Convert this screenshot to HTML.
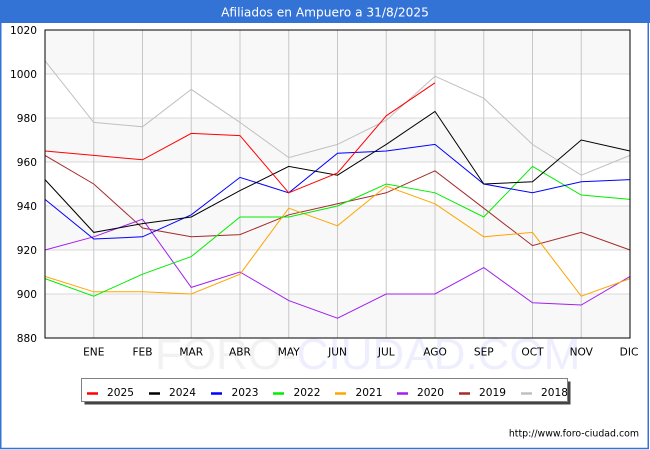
<!DOCTYPE html>
<html><head><meta charset="utf-8"><style>
html,body{margin:0;padding:0;background:#fff;}
body{width:650px;height:450px;overflow:hidden;}
svg{display:block;font-family:"DejaVu Sans","Liberation Sans",sans-serif;}
</style></head><body>
<svg width="650" height="450" viewBox="0 0 650 450" xmlns="http://www.w3.org/2000/svg">
<rect x="0" y="0" width="650" height="450" fill="#fff"/>
<!-- frame -->
<rect x="0.75" y="0" width="647.5" height="448.5" fill="none" stroke="#3473d6" stroke-width="1.5"/>
<rect x="0" y="0" width="650" height="23" fill="#3473d6"/>
<text x="325" y="16.5" fill="#fff" font-size="12.2" text-anchor="middle">Afiliados en Ampuero a 31/8/2025</text>

<!-- bands -->
<rect x="45" y="30" width="585" height="44" fill="#f8f8f8"/>
<rect x="45" y="118" width="585" height="44" fill="#f8f8f8"/>
<rect x="45" y="206" width="585" height="44" fill="#f8f8f8"/>
<rect x="45" y="294" width="585" height="44" fill="#f8f8f8"/>

<!-- horizontal grid -->
<g stroke="#d8d8d8" stroke-width="1">
<line x1="45" y1="74" x2="630" y2="74"/>
<line x1="45" y1="118" x2="630" y2="118"/>
<line x1="45" y1="162" x2="630" y2="162"/>
<line x1="45" y1="206" x2="630" y2="206"/>
<line x1="45" y1="250" x2="630" y2="250"/>
<line x1="45" y1="294" x2="630" y2="294"/>
</g>
<!-- vertical grid -->
<g stroke="#c8c8c8" stroke-width="1">
<line x1="93.75" y1="30" x2="93.75" y2="338"/>
<line x1="142.5" y1="30" x2="142.5" y2="338"/>
<line x1="191.25" y1="30" x2="191.25" y2="338"/>
<line x1="240" y1="30" x2="240" y2="338"/>
<line x1="288.75" y1="30" x2="288.75" y2="338"/>
<line x1="337.5" y1="30" x2="337.5" y2="338"/>
<line x1="386.25" y1="30" x2="386.25" y2="338"/>
<line x1="435" y1="30" x2="435" y2="338"/>
<line x1="483.75" y1="30" x2="483.75" y2="338"/>
<line x1="532.5" y1="30" x2="532.5" y2="338"/>
<line x1="581.25" y1="30" x2="581.25" y2="338"/>
</g>

<!-- watermark -->
<text x="155" y="369" font-size="44" fill="#f2f2f2" font-family="Liberation Sans, sans-serif">FORO-<tspan fill="#eeeeff">CIUDAD.COM</tspan></text>

<!-- series -->
<g fill="none" stroke-width="1" stroke-linejoin="miter">
<polyline stroke="#c0c0c0" points="45,60.8 93.75,122.4 142.5,126.8 191.25,89.4 240,122.4 288.75,157.6 337.5,144.4 386.25,120.2 435,76.2 483.75,98.2 532.5,144.4 581.25,175.2 630,155.4"/>
<polyline stroke="#a52a2a" points="45,155.4 93.75,184 142.5,228 191.25,236.8 240,234.6 288.75,214.8 337.5,203.8 386.25,192.8 435,170.8 483.75,208.2 532.5,245.6 581.25,232.4 630,250"/>
<polyline stroke="#a020f0" points="45,250 93.75,236.8 142.5,219.2 191.25,287.4 240,272 288.75,300.6 337.5,318.2 386.25,294 435,294 483.75,267.6 532.5,302.8 581.25,305 630,276.4"/>
<polyline stroke="#ffa500" points="45,276.4 93.75,291.8 142.5,291.8 191.25,294 240,274.2 288.75,208.2 337.5,225.8 386.25,186.2 435,203.8 483.75,236.8 532.5,232.4 581.25,296.2 630,278.6"/>
<polyline stroke="#00ee00" points="45,278.6 93.75,296.2 142.5,274.2 191.25,256.6 240,217 288.75,217 337.5,206 386.25,184 435,192.8 483.75,217 532.5,166.4 581.25,195 630,199.4"/>
<polyline stroke="#0000ff" points="45,199.4 93.75,239 142.5,236.8 191.25,214.8 240,177.4 288.75,192.8 337.5,153.2 386.25,151 435,144.4 483.75,184 532.5,192.8 581.25,181.8 630,179.6"/>
<polyline stroke="#000000" points="45,179.6 93.75,232.4 142.5,223.6 191.25,217 240,190.6 288.75,166.4 337.5,175.2 386.25,144.4 435,111.4 483.75,184 532.5,181.8 581.25,140 630,151"/>
<polyline stroke="#ff0000" points="45,151 93.75,155.4 142.5,159.8 191.25,133.4 240,135.6 288.75,192.8 337.5,173 386.25,115.8 435,82.8"/>
</g>

<!-- axes box -->
<rect x="45" y="30" width="585" height="308" fill="none" stroke="#000" stroke-width="1"/>

<!-- y labels -->
<g font-size="10.6" fill="#000" text-anchor="end">
<text x="37" y="34">1020</text>
<text x="37" y="78">1000</text>
<text x="37" y="122">980</text>
<text x="37" y="166">960</text>
<text x="37" y="210">940</text>
<text x="37" y="254">920</text>
<text x="37" y="298">900</text>
<text x="37" y="342">880</text>
</g>
<!-- x labels -->
<g font-size="10.6" fill="#000" text-anchor="middle">
<text x="93.75" y="355.5">ENE</text>
<text x="142.5" y="355.5">FEB</text>
<text x="191.25" y="355.5">MAR</text>
<text x="240" y="355.5">ABR</text>
<text x="288.75" y="355.5">MAY</text>
<text x="337.5" y="355.5">JUN</text>
<text x="386.25" y="355.5">JUL</text>
<text x="435" y="355.5">AGO</text>
<text x="483.75" y="355.5">SEP</text>
<text x="532.5" y="355.5">OCT</text>
<text x="581.25" y="355.5">NOV</text>
<text x="629" y="355.5">DIC</text>
</g>

<!-- legend -->
<rect x="84.5" y="381.5" width="486" height="23" fill="#444"/>
<rect x="81.5" y="378.5" width="486" height="23" fill="#fff" stroke="#808080" stroke-width="1"/>
<g stroke-width="2.5">
<line x1="87" y1="393.5" x2="98" y2="393.5" stroke="#ff0000"/>
<line x1="149" y1="393.5" x2="160" y2="393.5" stroke="#000000"/>
<line x1="211" y1="393.5" x2="222" y2="393.5" stroke="#0000ff"/>
<line x1="273" y1="393.5" x2="284" y2="393.5" stroke="#00ee00"/>
<line x1="335" y1="393.5" x2="346" y2="393.5" stroke="#ffa500"/>
<line x1="397" y1="393.5" x2="408" y2="393.5" stroke="#a020f0"/>
<line x1="459" y1="393.5" x2="470" y2="393.5" stroke="#a52a2a"/>
<line x1="521" y1="393.5" x2="532" y2="393.5" stroke="#c0c0c0"/>
</g>
<g font-size="10.6" fill="#000">
<text x="107" y="396">2025</text>
<text x="169" y="396">2024</text>
<text x="231.5" y="396">2023</text>
<text x="293.5" y="396">2022</text>
<text x="355.5" y="396">2021</text>
<text x="417" y="396">2020</text>
<text x="479" y="396">2019</text>
<text x="541" y="396">2018</text>
</g>

<text x="639" y="436.5" font-size="9.4" fill="#000" text-anchor="end">http://www.foro-ciudad.com</text>
</svg>
</body></html>
